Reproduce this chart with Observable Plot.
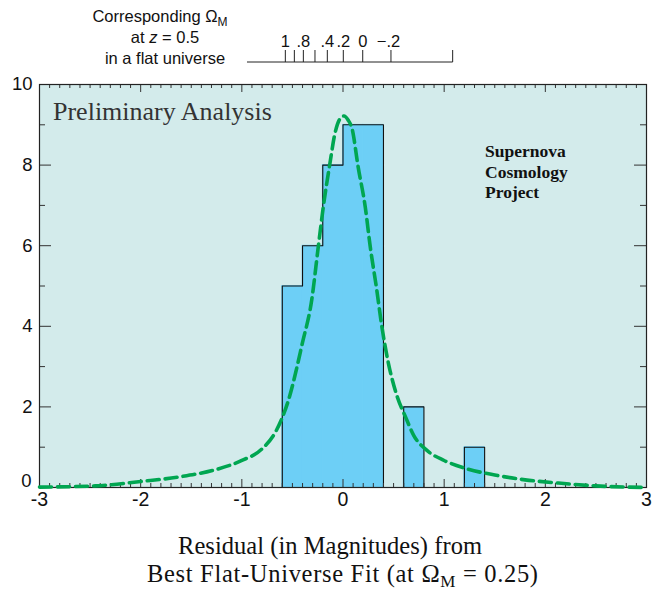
<!DOCTYPE html>
<html><head><meta charset="utf-8">
<script src="https://cdn.jsdelivr.net/npm/d3@7"></script>
<script src="https://cdn.jsdelivr.net/npm/@observablehq/plot@0.6"></script>
<style>body{margin:0;background:#fff;} svg{display:block}</style>
</head><body><div id="chart"></div>
<script>
// Histogram bins (residual in magnitudes) and counts
const binStart = [-0.6, -0.4, -0.2, 0.0, 0.2, 0.6, 1.2];
const binEnd   = [-0.4, -0.2, 0.0, 0.2, 0.4, 0.8, 1.4];
const binCount = [5, 6, 8, 9, 9, 2, 1];

// Dashed model curve
const curveX = [-3.0, -2.45, -2.0, -1.6, -1.25, -1.0, -0.8, -0.66, -0.54, -0.4, -0.31, -0.245, -0.195, -0.13, -0.08, -0.03, 0.01, 0.05, 0.09, 0.15, 0.22, 0.27, 0.33, 0.385, 0.45, 0.53, 0.62, 0.70, 0.83, 1.0, 1.23, 1.5, 1.8, 2.13, 2.5, 3.0];
const curveY = [0.01, 0.04, 0.15, 0.27, 0.45, 0.67, 0.96, 1.41, 2.16, 3.6, 4.64, 5.96, 6.96, 8.03, 8.78, 9.15, 9.22, 9.12, 8.9, 7.95, 6.96, 5.96, 4.97, 3.98, 3.07, 2.3, 1.74, 1.29, 0.92, 0.67, 0.46, 0.31, 0.19, 0.11, 0.04, 0.0];

// Axis ticks
const xTickValues = [-3, -2, -1, 0, 1, 2, 3];
const yTickValues = [0, 2, 4, 6, 8, 10];

// Secondary (Omega_M) scale: tick positions in residual units
const omegaTickResidual = [-0.565, -0.476, -0.387, -0.272, -0.150, 0.008, 0.20, 0.479];
const omegaLabels = ["1", ".8", ".4", ".2", "0", "\u2212.2"];
const omegaLabelResidual = [-0.565, -0.387, -0.150, 0.008, 0.20, 0.455];
const omegaAxisRange = [-0.944, 1.089];

const bars = binStart.map((s, i) => ({x1: s, x2: binEnd[i], count: binCount[i]}));
const curve = curveX.map((x, i) => ({x, y: curveY[i]}));

// Outline of contiguous bin groups (step outline, no interior dividers)
const outline = [];
let grp = 0;
bars.forEach((b, i) => {
  const prev = bars[i - 1];
  const next = bars[i + 1];
  if (!prev || prev.x2 !== b.x1) { grp++; outline.push({x: b.x1, y: 0, g: grp}); }
  outline.push({x: b.x1, y: b.count, g: grp});
  outline.push({x: b.x2, y: b.count, g: grp});
  if (!next || next.x1 !== b.x2) outline.push({x: b.x2, y: 0, g: grp});
});

const minorX = d3.range(-30, 31).map(i => i / 10).filter(v => !xTickValues.includes(v));
const yMinor = d3.range(1, 10, 2);
const yMajor = yTickValues;

const W = 653, H = 591, mT = 84, mB = 104, mL = 39, mR = 7;
const innerH = H - mT - mB, innerW = W - mL - mR;
const sans = "Liberation Sans, Arial, sans-serif";
const serif = "Liberation Serif, Times New Roman, serif";

const chart = Plot.plot({
  width: W, height: H,
  marginTop: mT, marginBottom: mB, marginLeft: mL, marginRight: mR,
  style: {fontFamily: sans, fontSize: "18px", background: "#fff", color: "#111"},
  x: {domain: [-3, 3]},
  y: {domain: [0, 10]},
  marks: [
    Plot.frame({fill: "#d3ebeb", stroke: "none"}),
    Plot.rectY(bars, {x1: "x1", x2: "x2", y: "count", fill: "#6dcff6", stroke: "#6dcff6", strokeWidth: 0.8}),
    Plot.line(outline, {x: "x", y: "y", z: "g", stroke: "#111", strokeWidth: 1.1}),
    Plot.tickX(minorX, {x: d => d, insetTop: innerH - 4, stroke: "#333"}),
    Plot.tickX(xTickValues, {x: d => d, insetTop: innerH - 8, stroke: "#333"}),
    Plot.tickX(minorX, {x: d => d, insetBottom: innerH - 4, stroke: "#333"}),
    Plot.tickX(xTickValues, {x: d => d, insetBottom: innerH - 8, stroke: "#333"}),
    Plot.tickY(yMajor, {y: d => d, insetRight: innerW - 12, stroke: "#333"}),
    Plot.tickY(yMinor, {y: d => d, insetRight: innerW - 6, stroke: "#333"}),
    Plot.tickY(yMajor, {y: d => d, insetLeft: innerW - 12, stroke: "#333"}),
    Plot.tickY(yMinor, {y: d => d, insetLeft: innerW - 6, stroke: "#333"}),
    Plot.frame({stroke: "#222", strokeWidth: 1.2}),
    Plot.line(curve, {x: "x", y: "y", curve: "monotone-x", stroke: "#00a651", strokeWidth: 3.6, strokeDasharray: "12,6"}),
    Plot.axisX({ticks: xTickValues, tickSize: 0, tickPadding: 5, tickFormat: d => String(d), label: null}),
    Plot.axisY({ticks: yTickValues.filter(v => v !== 0), tickSize: 0, tickPadding: 7, tickFormat: d => String(d), label: null}),
    Plot.axisY({ticks: [0], tickSize: 0, tickPadding: 8, dy: -6, tickFormat: d => String(d), label: null})
  ]
});

document.getElementById("chart").appendChild(chart);

const svg = d3.select(chart);
// enlarge axis tick labels (the only texts drawn so far)
svg.selectAll("text").each(function() {
  const parent = this.parentNode;
  const label = (parent && parent.getAttribute("aria-label")) || "";
  const isX = label.indexOf("x-axis") >= 0;
  d3.select(this).attr("font-size", isX ? 19.5 : 18.5).attr("font-family", sans).attr("fill", "#111")
    .style("font-size", (isX ? 19.5 : 18.5) + "px");
});

const xs = chart.scale("x");
const X = v => xs.apply(v);

// Secondary axis (Omega_M)
const omegaAxis = svg.append("g").attr("stroke", "#222").attr("stroke-width", 1);
omegaAxis.append("line").attr("x1", X(omegaAxisRange[0])).attr("x2", X(omegaAxisRange[1])).attr("y1", 62).attr("y2", 62);
omegaAxis.append("line").attr("x1", X(omegaAxisRange[1])).attr("x2", X(omegaAxisRange[1])).attr("y1", 50).attr("y2", 62);
omegaTickResidual.forEach(r => {
  omegaAxis.append("line").attr("x1", X(r)).attr("x2", X(r)).attr("y1", 50).attr("y2", 62);
});
omegaLabels.forEach((t, i) => {
  svg.append("text").attr("x", X(omegaLabelResidual[i])).attr("y", 46.5)
    .attr("text-anchor", "middle").attr("font-family", sans).attr("font-size", 16.5).attr("fill", "#111").text(t);
});

// Top-left annotation
const ann = svg.append("text").attr("font-family", sans).attr("font-size", 16.5).attr("fill", "#111").attr("text-anchor", "middle");
const l1 = ann.append("tspan").attr("x", 160).attr("y", 22);
l1.append("tspan").text("Corresponding \u03A9");
l1.append("tspan").attr("font-size", 12).attr("dy", 4).text("M");
const l2 = ann.append("tspan").attr("x", 165).attr("y", 43);
l2.append("tspan").text("at ");
l2.append("tspan").attr("font-style", "italic").text("z");
l2.append("tspan").text(" = 0.5");
ann.append("tspan").attr("x", 165).attr("y", 64).text("in a flat universe");

// In-plot texts
svg.append("text").attr("x", 53).attr("y", 120).attr("text-anchor", "start").attr("font-family", serif).attr("font-size", 26)
  .attr("fill", "#333").text("Preliminary Analysis");
["Supernova", "Cosmology", "Project"].forEach((t, i) => {
  svg.append("text").attr("x", 485).attr("y", 157 + i * 20.7).attr("text-anchor", "start").attr("font-family", serif)
    .attr("font-size", 17.5).attr("font-weight", "bold").attr("fill", "#111").text(t);
});

// X axis title
svg.append("text").attr("x", 178).attr("y", 554).attr("text-anchor", "start").attr("font-family", serif)
  .attr("font-size", 24.5).attr("fill", "#111").attr("textLength", 304).attr("lengthAdjust", "spacing")
  .text("Residual (in Magnitudes) from");
const t2 = svg.append("text").attr("x", 147).attr("y", 582).attr("text-anchor", "start").attr("font-family", serif)
  .attr("font-size", 24.5).attr("fill", "#111").attr("textLength", 391).attr("lengthAdjust", "spacing");
t2.append("tspan").text("Best Flat-Universe Fit (at \u03A9");
t2.append("tspan").attr("font-size", 17).attr("dy", 5).text("M");
t2.append("tspan").attr("dy", -5).text(" = 0.25)");
</script>
</body></html>
